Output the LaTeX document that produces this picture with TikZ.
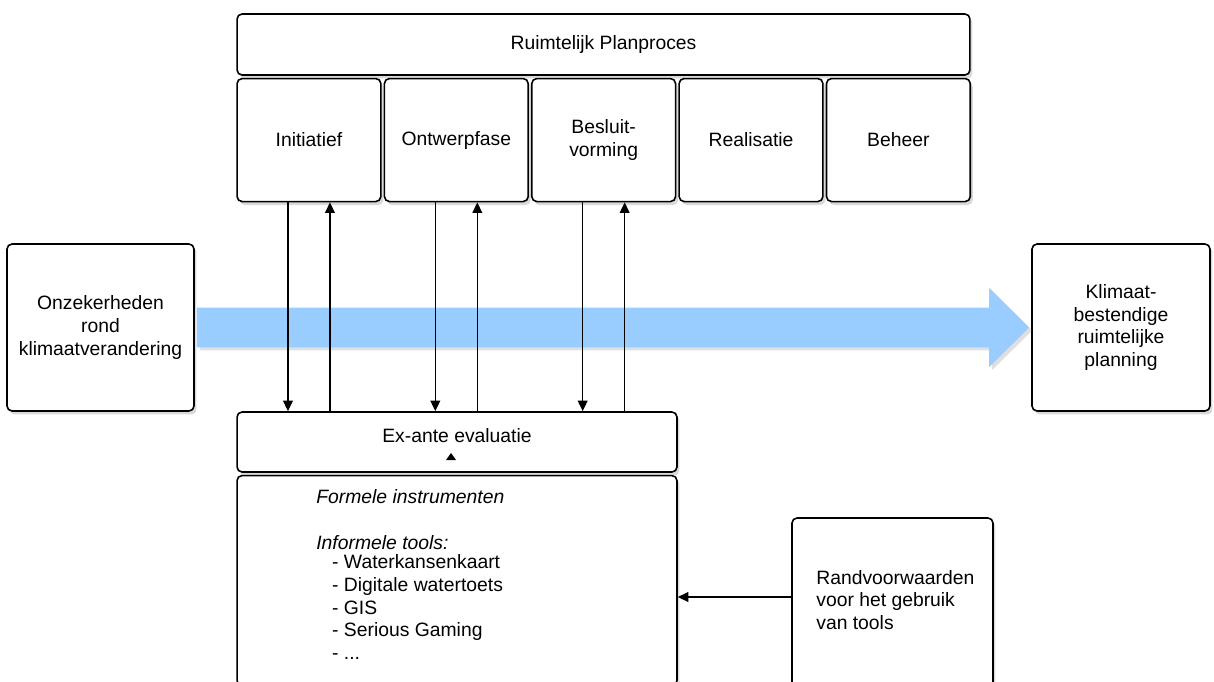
\documentclass[tikz,border=0pt]{standalone}
\usepackage{fontspec}
\setmainfont{Liberation Sans}
\usepackage{tikz}
\usetikzlibrary{shapes,shadows,arrows.meta,positioning,calc}
\definecolor{pijlblauw}{RGB}{153,204,255}
\tikzset{
    kader/.style={
        rectangle,                % gewone rechthoek
        rounded corners=1mm,      % lichtjes afgeronde hoeken
        draw=black,               % zwarte rand
        fill=white,               % witte vulling, zodat de schaduw niet doorschijnt
        line width=0.9pt,         % vrij dikke rand
        align=center,             % tekst gecentreerd
        inner sep=4pt,
        drop shadow={shadow xshift=0.05cm, shadow yshift=-0.07cm, opacity=0.3}
    },
    fase/.style={
        kader,
        minimum width=2.876cm,    % vijf fasen naast elkaar onder het planproces
        minimum height=2.46cm
    },
    pijl/.style={
        line width=0.9pt,         % verbindingslijn
        -{Triangle[length=6pt,width=5.5pt]} % zwarte pijlpunt
    },
    stroom/.style={
        fill=pijlblauw,           % lichtblauwe brede pijl
        drop shadow={shadow xshift=0.06cm, shadow yshift=-0.06cm, opacity=0.25}
    },
    lijst/.style={
        align=left,               % opsomming links uitgelijnd
        inner sep=0pt
    }
}

\begin{document}
\begin{tikzpicture}[node distance=0.04cm, x=0.02cm, y=-0.02cm,
        every node/.style={font=\fontsize{11}{13}\selectfont}]
    \useasboundingbox (0,0) rectangle (1214,682);
    \node[kader, minimum width=14.66cm, minimum height=1.22cm] (planproces) at (603.5,44.5) {Ruimtelijk Planproces};
    \node[fase, anchor=north west] (initiatief) at ([yshift=-0.04cm]planproces.south west) {Initiatief};
    \node[fase, right=of initiatief] (ontwerp) {Ontwerpfase};
    \node[fase, right=of ontwerp] (besluit) {Besluit-\\vorming};
    \node[fase, right=of besluit] (realisatie) {Realisatie};
    \node[fase, right=of realisatie] (beheer) {Beheer};

    \node[kader, minimum width=3.74cm, minimum height=3.34cm] (onzeker) at (100.5,327.5) {Onzekerheden\\rond\\klimaatverandering};
    \node[kader, minimum width=3.56cm, minimum height=3.34cm] (klimaat) at (1121,327.5) {Klimaat-\\bestendige\\ruimtelijke\\planning};
    \fill[stroom] ([xshift=0.04cm,yshift=0.4cm]onzeker.east) -- ([xshift=-0.84cm,yshift=0.4cm]klimaat.west)
        -- ([xshift=-0.84cm,yshift=0.79cm]klimaat.west) -- ([xshift=-0.04cm]klimaat.west)
        -- ([xshift=-0.84cm,yshift=-0.79cm]klimaat.west) -- ([xshift=-0.84cm,yshift=-0.4cm]klimaat.west)
        -- ([xshift=0.04cm,yshift=-0.4cm]onzeker.east) -- cycle;

    \node[kader, minimum width=8.8cm, minimum height=1.2cm, text depth=0.27cm] (exante) at (457,442) {Ex-ante evaluatie};
    \node[kader, minimum width=8.8cm, minimum height=4.2cm, below=of exante] (tools) {};
    \node[lijst, anchor=north west] (toollijst) at (316,489) {\textit{Formele instrumenten}\\[\baselineskip]
        \textit{Informele tools:}\\[-2pt]
        \hspace*{9pt}- Waterkansenkaart\\
        \hspace*{9pt}- Digitale watertoets\\
        \hspace*{9pt}- GIS\\
        \hspace*{9pt}- Serious Gaming\\
        \hspace*{9pt}- ...};
    \fill (446,460) -- (456,460) -- (451,453) -- cycle;

    \node[kader, minimum width=4.02cm, minimum height=3.44cm] (randvw) at (892.5,604) {};
    \node[lijst, anchor=west] (randtekst) at (816,600) {Randvoorwaarden\\voor het gebruik\\van tools};
    \draw[pijl] ([yshift=0.14cm]randvw.west) -- ([yshift=0.14cm]randvw.west -| tools.east);

    \draw[pijl] ([xshift=-0.42cm]initiatief.south) -- ([xshift=-0.42cm]initiatief.south |- exante.north);
    \draw[pijl] ([xshift=0.42cm]initiatief.south |- exante.north) -- ([xshift=0.42cm]initiatief.south);
    \draw[pijl] ([xshift=-0.42cm]ontwerp.south) -- ([xshift=-0.42cm]ontwerp.south |- exante.north);
    \draw[pijl] ([xshift=0.42cm]ontwerp.south |- exante.north) -- ([xshift=0.42cm]ontwerp.south);
    \draw[pijl] ([xshift=-0.42cm]besluit.south) -- ([xshift=-0.42cm]besluit.south |- exante.north);
    \draw[pijl] ([xshift=0.42cm]besluit.south |- exante.north) -- ([xshift=0.42cm]besluit.south);
\end{tikzpicture}
\end{document}
